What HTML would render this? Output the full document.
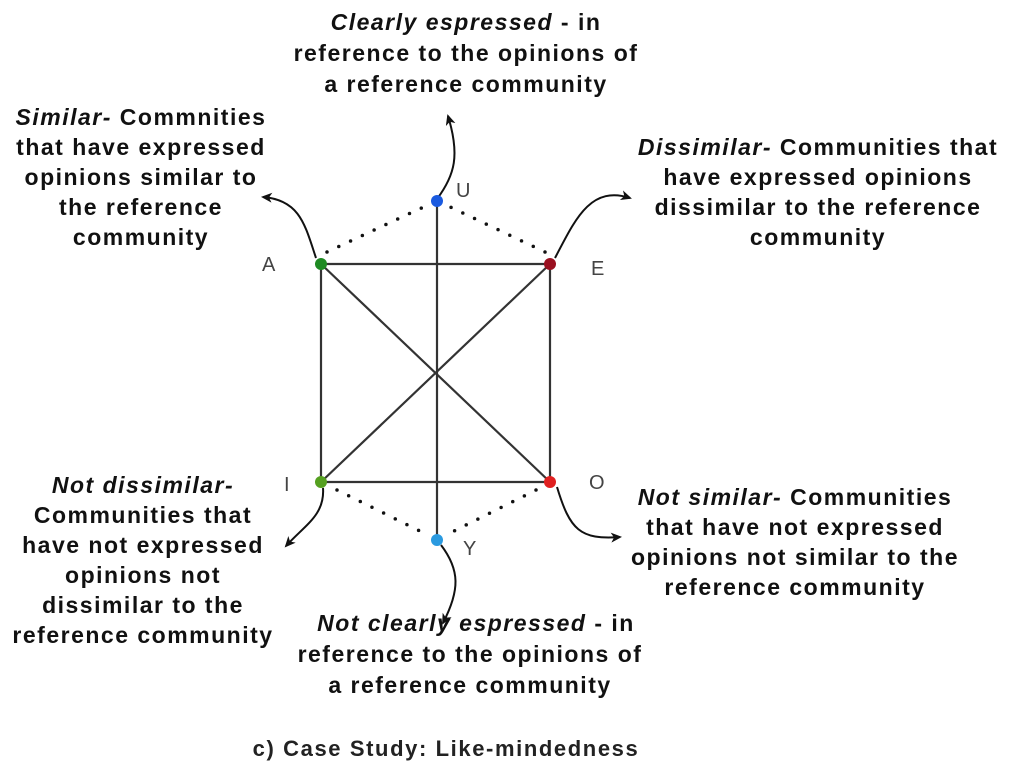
<!DOCTYPE html>
<html><head><meta charset="utf-8"><style>
html,body{margin:0;padding:0;background:#fff;}
svg{display:block;}
text{font-family:"Liberation Sans",sans-serif;}
.t{font-size:23px;font-weight:bold;fill:#111;text-anchor:middle;letter-spacing:1.5px;}
.n{font-size:20px;fill:#444;}
</style></head><body>
<svg width="1013" height="776" viewBox="0 0 1013 776">
<defs><marker id="ah" markerWidth="12" markerHeight="12" refX="9" refY="5" orient="auto" markerUnits="userSpaceOnUse"><path d="M0,0 L11,5 L0,10 L3,5 Z" fill="#111"/></marker></defs>
<g stroke="#333" stroke-width="2.2" fill="none">
<line x1="321" y1="264" x2="550" y2="264"/>
<line x1="321" y1="482" x2="550" y2="482"/>
<line x1="321" y1="264" x2="321" y2="482"/>
<line x1="550" y1="264" x2="550" y2="482"/>
<line x1="321" y1="264" x2="550" y2="482"/>
<line x1="550" y1="264" x2="321" y2="482"/>
<line x1="437" y1="201" x2="437" y2="540"/>
</g>
<g stroke="#111" stroke-width="3.5" stroke-linecap="round" stroke-dasharray="0 13" fill="none">
<line x1="327" y1="252" x2="430" y2="204"/>
<line x1="545" y1="252" x2="444" y2="204"/>
<line x1="337" y1="490" x2="428" y2="535"/>
<line x1="536" y1="490" x2="446" y2="535"/>
</g>
<g stroke="#111" stroke-width="2" fill="none" marker-end="url(#ah)">
<path d="M437,199 C455,175 460,155 448,116"/>
<path d="M316,258 C305,225 300,200 263,197"/>
<path d="M555,258 C575,220 590,185 630,198"/>
<path d="M323,488 C325,515 305,525 286,546"/>
<path d="M557,487 C570,530 580,540 620,537"/>
<path d="M441,545 C460,570 460,590 443,623"/>
</g>
<circle cx="437" cy="201" r="6" fill="#1a5ae0"/>
<circle cx="321" cy="264" r="6" fill="#1e8a22"/>
<circle cx="550" cy="264" r="6" fill="#9a1020"/>
<circle cx="321" cy="482" r="6" fill="#55a020"/>
<circle cx="550" cy="482" r="6" fill="#e02020"/>
<circle cx="437" cy="540" r="6" fill="#2a9ae0"/>
<text class="n" x="456" y="197">U</text>
<text class="n" x="262" y="271">A</text>
<text class="n" x="591" y="275">E</text>
<text class="n" x="284" y="491">I</text>
<text class="n" x="589" y="489">O</text>
<text class="n" x="463" y="555">Y</text>
<text class="t" x="466" y="30"><tspan font-style="italic">Clearly espressed</tspan> - in</text>
<text class="t" x="466" y="61">reference to the opinions of</text>
<text class="t" x="466" y="92">a reference community</text>
<text class="t" x="141" y="125"><tspan font-style="italic">Similar-</tspan> Commnities</text>
<text class="t" x="141" y="155">that have expressed</text>
<text class="t" x="141" y="185">opinions similar to</text>
<text class="t" x="141" y="215">the reference</text>
<text class="t" x="141" y="245">community</text>
<text class="t" x="818" y="155"><tspan font-style="italic">Dissimilar-</tspan> Communities that</text>
<text class="t" x="818" y="185">have expressed opinions</text>
<text class="t" x="818" y="215">dissimilar to the reference</text>
<text class="t" x="818" y="245">community</text>
<text class="t" x="143" y="493"><tspan font-style="italic">Not dissimilar-</tspan></text>
<text class="t" x="143" y="523">Communities that</text>
<text class="t" x="143" y="553">have not expressed</text>
<text class="t" x="143" y="583">opinions not</text>
<text class="t" x="143" y="613">dissimilar to the</text>
<text class="t" x="143" y="643">reference community</text>
<text class="t" x="795" y="505"><tspan font-style="italic">Not similar-</tspan> Communities</text>
<text class="t" x="795" y="535">that have not expressed</text>
<text class="t" x="795" y="565">opinions not similar to the</text>
<text class="t" x="795" y="595">reference community</text>
<text class="t" x="476" y="631"><tspan font-style="italic">Not clearly espressed</tspan> - in</text>
<text class="t" x="470" y="662">reference to the opinions of</text>
<text class="t" x="470" y="693">a reference community</text>
<text x="446" y="756" text-anchor="middle" style="font-size:22px;font-weight:bold;letter-spacing:1.6px;fill:#222;">c) Case Study: Like-mindedness</text>
</svg>
</body></html>
